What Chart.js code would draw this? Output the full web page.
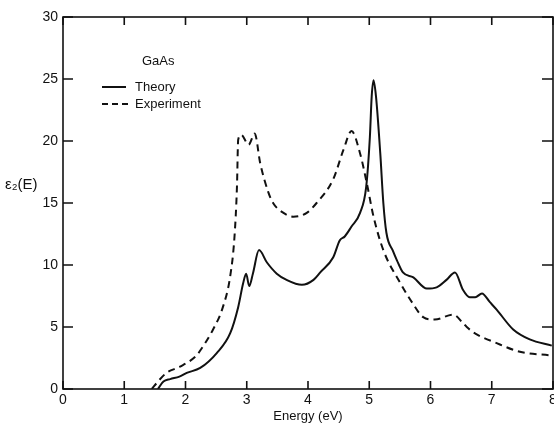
<!DOCTYPE html>
<html>
<head>
<meta charset="utf-8">
<script src="https://cdn.jsdelivr.net/npm/chart.js@4/dist/chart.umd.min.js"></script>
<style>
  html, body { margin: 0; padding: 0; background: #fff; }
  #wrap { width: 554px; height: 426px; }
</style>
</head>
<body>
<div id="wrap"><canvas id="c"></canvas></div>
<script>
const theoryE = [1.55, 1.64, 1.75, 1.9, 2.02, 2.24, 2.51, 2.73, 2.86, 2.94, 2.99, 3.04, 3.10, 3.20, 3.33, 3.49, 3.65, 3.90, 4.09, 4.20, 4.41, 4.52, 4.60, 4.71, 4.85, 4.95, 5.01, 5.04, 5.07, 5.11, 5.18, 5.23, 5.28, 5.39, 5.45, 5.55, 5.72, 5.94, 6.10, 6.26, 6.40, 6.53, 6.64, 6.73, 6.84, 6.97, 7.08, 7.35, 7.62, 7.98]
const theoryEps = [0, 0.6, 0.8, 1.0, 1.3, 1.7, 2.9, 4.5, 6.6, 8.5, 9.3, 8.3, 9.3, 11.2, 10.2, 9.3, 8.8, 8.4, 8.8, 9.4, 10.6, 12.0, 12.3, 13.1, 14.2, 16.3, 20.3, 23.6, 24.9, 23.6, 19.0, 15.0, 12.6, 11.1, 10.4, 9.4, 9.0, 8.1, 8.2, 8.8, 9.4, 8.0, 7.4, 7.4, 7.7, 7.0, 6.4, 4.8, 4.0, 3.5]

const exptE = [1.45, 1.55, 1.69, 1.91, 2.18, 2.24, 2.45, 2.61, 2.73, 2.80, 2.84, 2.86, 2.91, 3.03, 3.13, 3.22, 3.35, 3.43, 3.60, 3.76, 3.98, 4.14, 4.41, 4.58, 4.71, 4.85, 4.96, 5.07, 5.23, 5.50, 5.71, 5.88, 6.07, 6.37, 6.55, 6.69, 7.08, 7.46, 7.98]
const exptEps = [0, 0.6, 1.3, 1.8, 2.7, 3.1, 4.8, 6.6, 9.1, 12.3, 16.3, 20.1, 20.5, 19.7, 20.6, 18.2, 15.9, 15.0, 14.2, 13.9, 14.2, 15.0, 16.9, 19.3, 20.8, 19.0, 16.6, 13.9, 11.2, 8.6, 6.9, 5.8, 5.6, 6.0, 5.2, 4.6, 3.7, 3.0, 2.7]

const xTicks = [0, 1, 2, 3, 4, 5, 6, 7, 8]
const yTicks = [0, 5, 10, 15, 20, 25, 30]

const ink = '#111'
const font = 'Liberation Sans, Arial, sans-serif'

const toPoints = (xs, ys) => xs.map((x, i) => ({ x, y: ys[i] }))

// frame, inward ticks, legend and the horizontal y title
const decor = {
  id: 'decor',
  afterDraw(chart) {
    const { ctx, chartArea: a, scales } = chart
    ctx.save()
    ctx.strokeStyle = ink
    ctx.lineWidth = 1.6
    ctx.strokeRect(a.left, a.top, a.right - a.left, a.bottom - a.top)

    xTicks.forEach(v => {
      const px = scales.x.getPixelForValue(v)
      ctx.beginPath()
      ctx.moveTo(px, a.bottom); ctx.lineTo(px, a.bottom - 8)
      ctx.moveTo(px, a.top); ctx.lineTo(px, a.top + 8)
      ctx.stroke()
    })
    yTicks.forEach(v => {
      const py = scales.y.getPixelForValue(v)
      ctx.beginPath()
      ctx.moveTo(a.left, py); ctx.lineTo(a.left + 10, py)
      ctx.moveTo(a.right, py); ctx.lineTo(a.right - 11, py)
      ctx.stroke()
    })

    ctx.fillStyle = ink
    ctx.textBaseline = 'middle'
    ctx.font = '13px ' + font
    ctx.fillText('GaAs', 142, 61)

    ctx.lineWidth = 2
    ctx.beginPath(); ctx.moveTo(102, 87); ctx.lineTo(126, 87); ctx.stroke()
    ctx.setLineDash([6, 4])
    ctx.beginPath(); ctx.moveTo(102, 104); ctx.lineTo(128, 104); ctx.stroke()
    ctx.setLineDash([])
    ctx.fillText('Theory', 135, 87)
    ctx.fillText('Experiment', 135, 104)

    ctx.font = '15px ' + font
    ctx.fillText('\u03b5\u2082(E)', 5, 185)
    ctx.restore()
  }
}

new Chart(document.getElementById('c'), {
  type: 'line',
  data: {
    datasets: [
      {
        label: 'Theory',
        data: toPoints(theoryE, theoryEps),
        borderColor: ink,
        borderWidth: 2,
        pointRadius: 0,
        cubicInterpolationMode: 'monotone',
        fill: false
      },
      {
        label: 'Experiment',
        data: toPoints(exptE, exptEps),
        borderColor: ink,
        borderWidth: 2,
        borderDash: [7, 5],
        pointRadius: 0,
        cubicInterpolationMode: 'monotone',
        fill: false
      }
    ]
  },
  options: {
    responsive: true,
    maintainAspectRatio: false,
    animation: false,
    layout: { padding: { top: 17, right: 1, left: 0, bottom: 0 } },
    plugins: { legend: { display: false }, tooltip: { enabled: false } },
    scales: {
      x: {
        type: 'linear',
        min: 0,
        max: 8,
        afterFit: s => { s.height = 37; s.paddingLeft = 0; s.paddingRight = 0 },
        afterBuildTicks: s => { s.ticks = xTicks.map(v => ({ value: v })) },
        grid: { display: false, drawTicks: false },
        border: { display: false },
        ticks: { color: ink, padding: 3, font: { family: font, size: 14 }, maxRotation: 0 },
        title: { display: true, text: 'Energy (eV)', color: ink, padding: { top: 0, bottom: 2 }, font: { family: font, size: 13 } }
      },
      y: {
        min: 0,
        max: 30,
        afterFit: s => { s.width = 63 },
        afterBuildTicks: s => { s.ticks = yTicks.map(v => ({ value: v })) },
        grid: { display: false, drawTicks: false },
        border: { display: false },
        ticks: { color: ink, padding: 5, font: { family: font, size: 14 } }
      }
    }
  },
  plugins: [decor]
})
</script>
</body>
</html>
